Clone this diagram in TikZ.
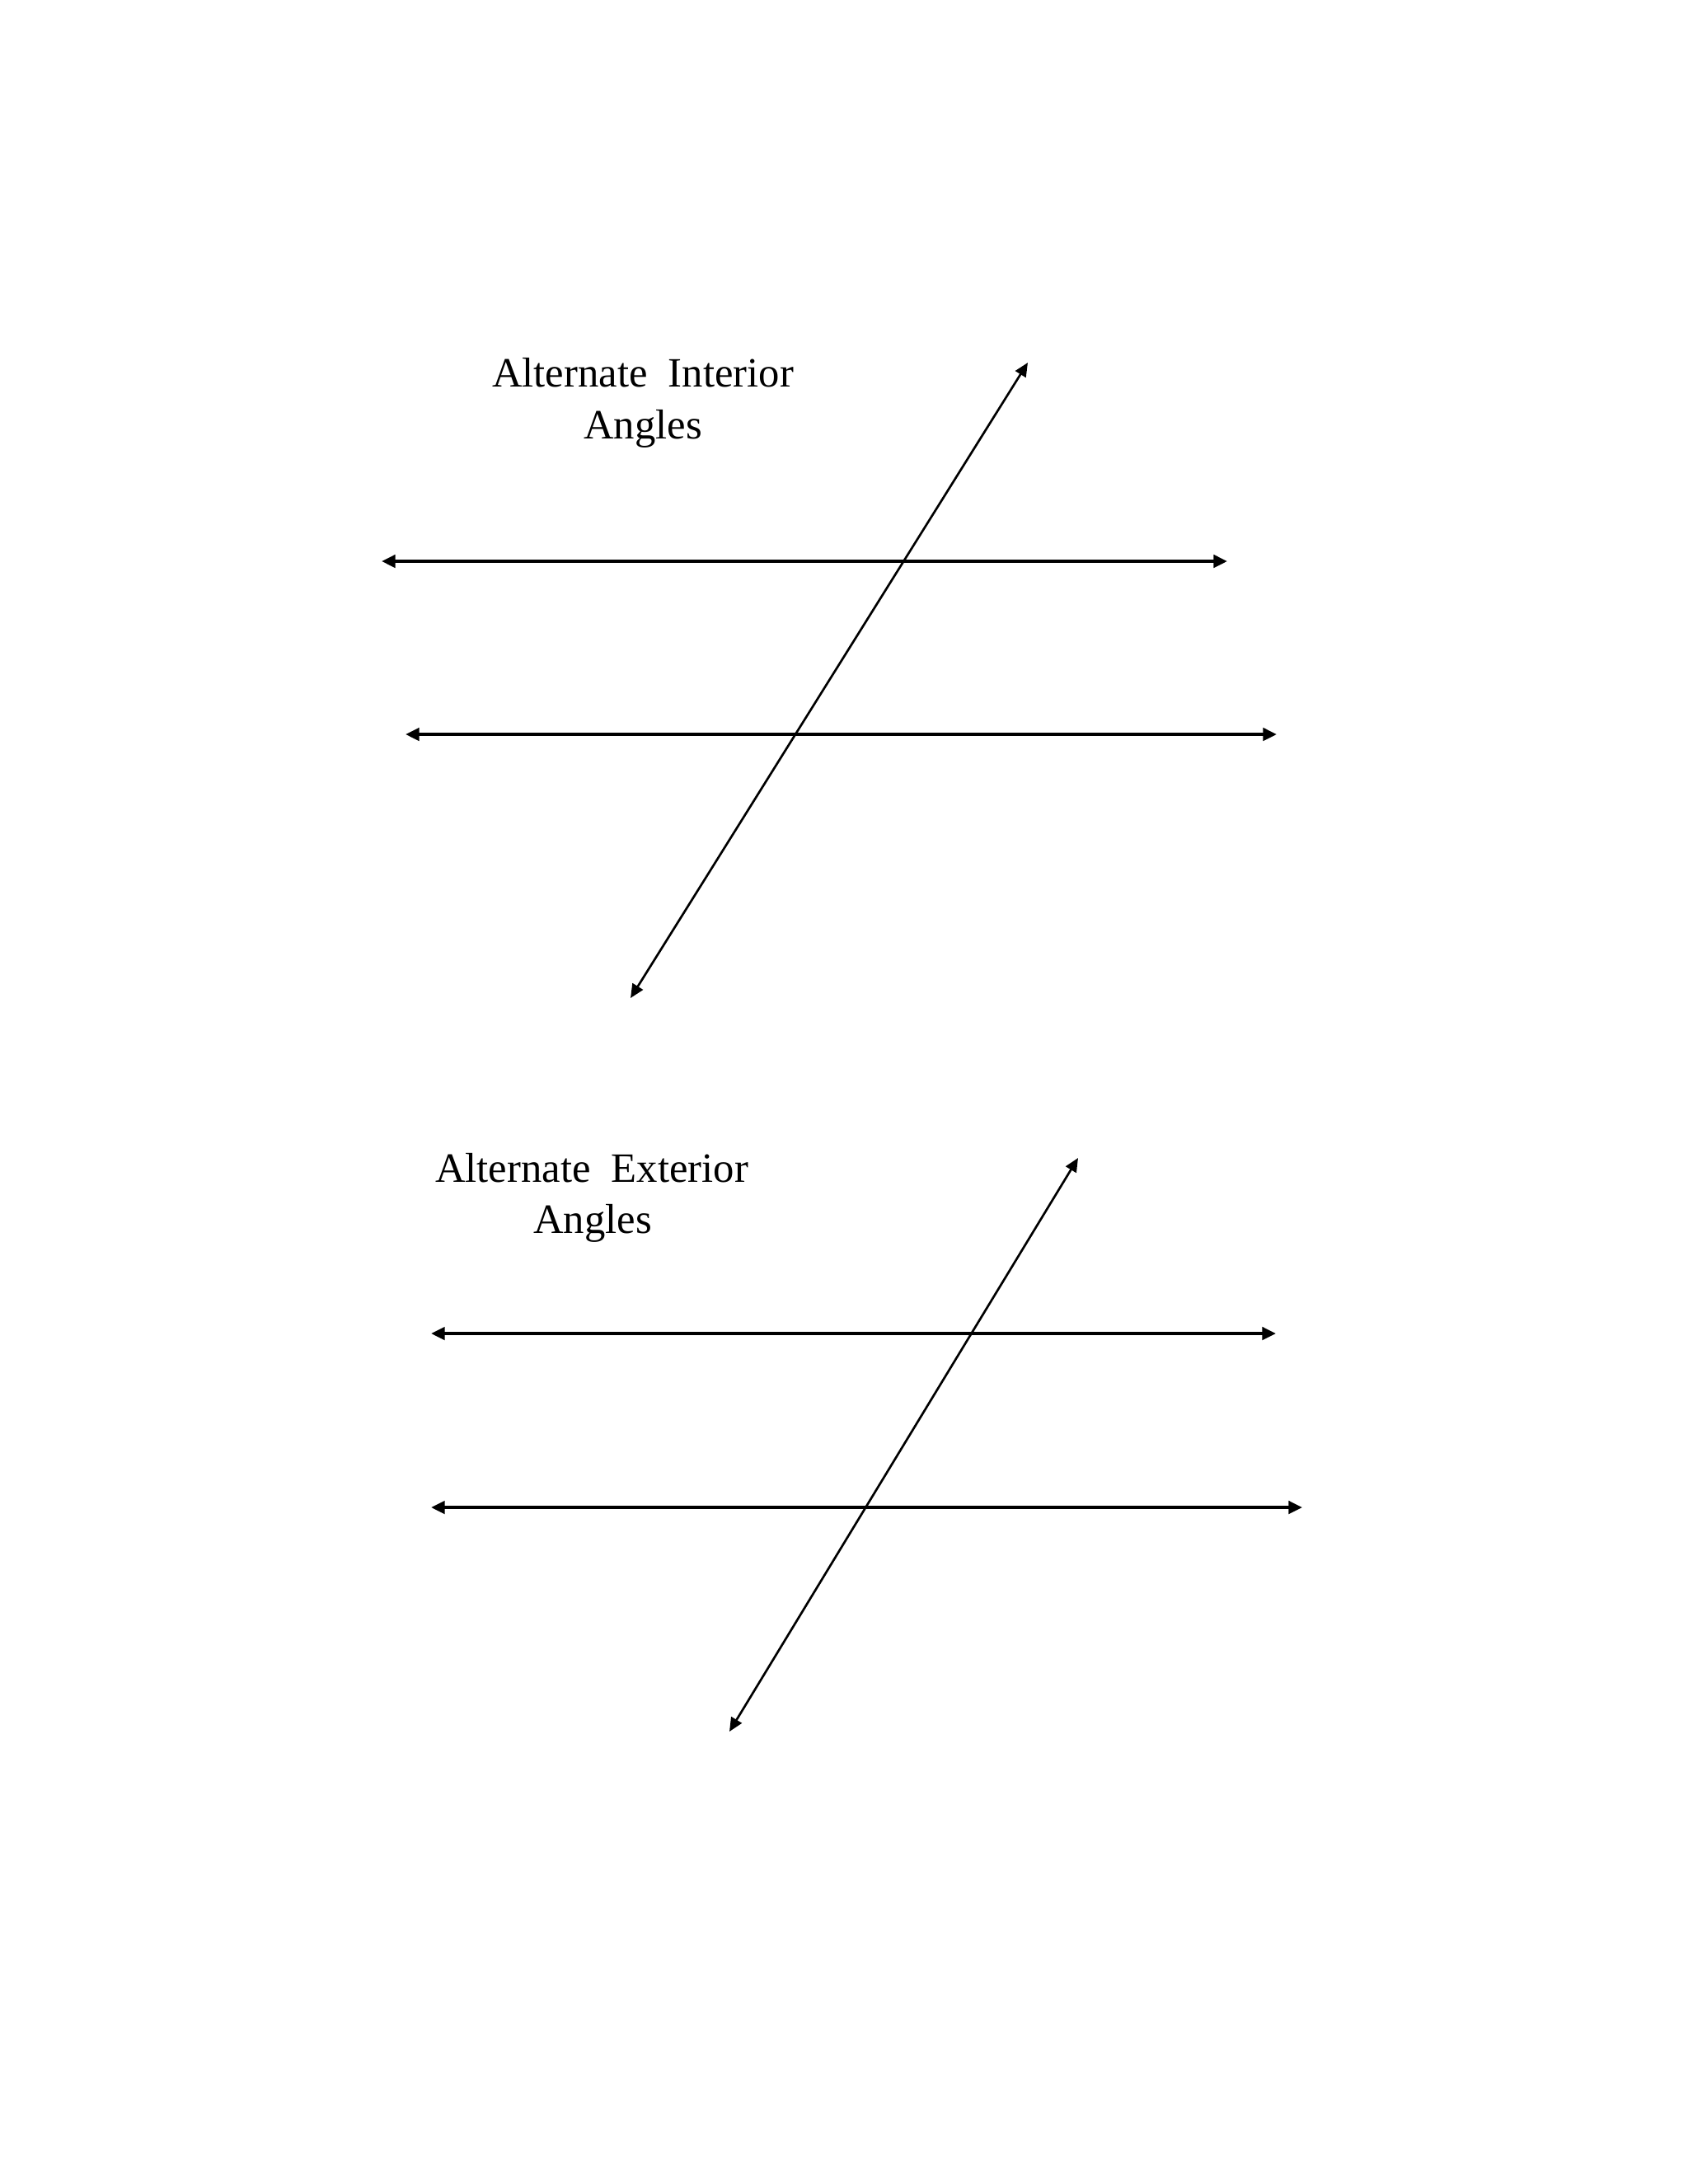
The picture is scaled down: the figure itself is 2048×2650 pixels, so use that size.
\documentclass[tikz,border=0pt]{standalone}
\usepackage{fontspec}
\setmainfont{Liberation Serif}
\usetikzlibrary{arrows.meta}
\tikzset{
  parline/.style={line width=1.1pt, {Triangle[length=5pt,width=4.6pt]}-{Triangle[length=5pt,width=4.6pt]}},
  transline/.style={line width=0.8pt, {Triangle[length=5pt,width=4.4pt]}-{Triangle[length=5pt,width=4.4pt]}},
  title/.style={anchor=base, inner sep=0pt, font=\fontsize{15.2pt}{18pt}\selectfont}
}
\begin{document}
\begin{tikzpicture}[x=0.3pt,y=-0.3pt]
\useasboundingbox (0,0) rectangle (2048,2650);
\fill[white] (0,0) rectangle (2048,2650);
% ---- Alternate Interior Angles ----
\node[title] (t1a) at (780,469) {Alternate~~Interior};
\node[title] (t1b) at (780,532) {Angles};
\coordinate (l1a) at (463,681);
\coordinate (l1b) at (1489,681);
\coordinate (l2a) at (492,891);
\coordinate (l2b) at (1549,891);
\coordinate (tr1a) at (1247,440);
\coordinate (tr1b) at (765,1211);
\draw[parline] (l1a) -- (l1b);
\draw[parline] (l2a) -- (l2b);
\draw[transline] (tr1b) -- (tr1a);
% ---- Alternate Exterior Angles ----
\node[title] (t2a) at (718,1434) {Alternate~~Exterior};
\node[title] (t2b) at (719,1496) {Angles};
\coordinate (l3a) at (523,1618);
\coordinate (l3b) at (1548,1618);
\coordinate (l4a) at (523,1829);
\coordinate (l4b) at (1580,1829);
\coordinate (tr2a) at (1308,1405);
\coordinate (tr2b) at (885,2101);
\draw[parline] (l3a) -- (l3b);
\draw[parline] (l4a) -- (l4b);
\draw[transline] (tr2b) -- (tr2a);
\end{tikzpicture}
\end{document}
